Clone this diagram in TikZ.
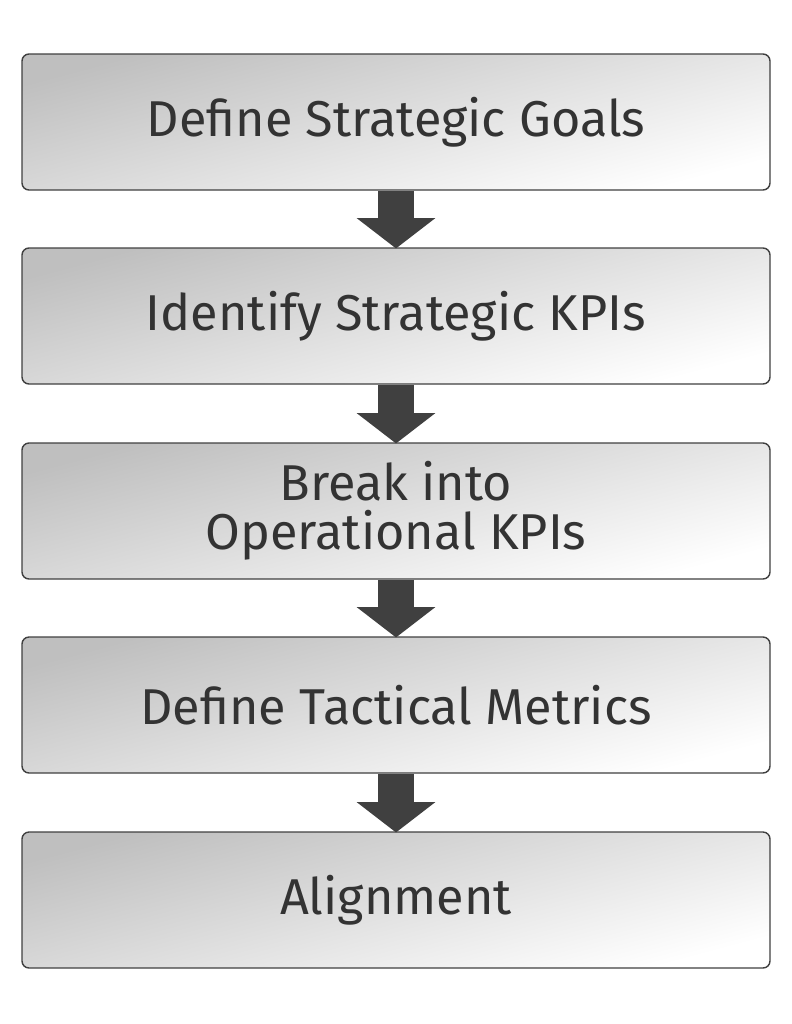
\documentclass[tikz,border=0pt]{standalone}
\usepackage{fontspec}
\setmainfont{Fira Sans}
\usetikzlibrary{positioning,arrows.meta}

\begin{document}
\begin{tikzpicture}[x=0.03cm,y=-0.03cm,
  stepbox/.style={draw=black!75, line width=1.2pt, rounded corners=6pt,
    minimum width=748*0.03cm, minimum height=136*0.03cm, align=center,
    left color=black!25, right color=white, shading angle=15,
    font=\fontsize{43}{44}\selectfont, text=black!80},
  flow/.style={draw=black!75, line width=30pt, -{Triangle[length=26pt,width=66pt]}, shorten >=-1pt}]
\useasboundingbox (0,0) rectangle (792,1024);
\node[stepbox] (goals) at (396,122) {Define Strategic Goals};
\node[stepbox] (kpis) at (396,316) {Identify Strategic KPIs};
\node[stepbox] (ops) at (396,511) {Break into\\[-2pt]Operational KPIs};
\node[stepbox] (tact) at (396,705) {Define Tactical Metrics};
\node[stepbox] (align) at (396,900) {Alignment};
\draw[flow] (goals.south) -- (kpis.north);
\draw[flow] (kpis.south) -- (ops.north);
\draw[flow] (ops.south) -- (tact.north);
\draw[flow] (tact.south) -- (align.north);
\end{tikzpicture}
\end{document}
